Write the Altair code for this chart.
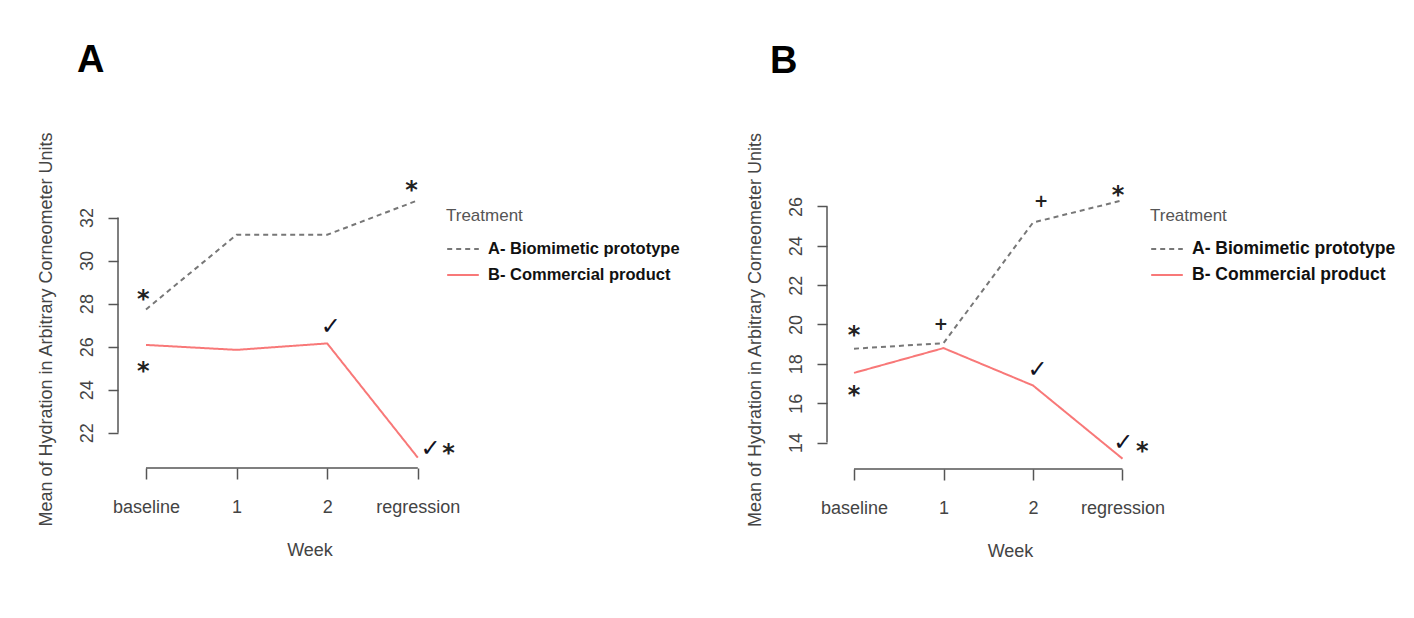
import json
import altair as alt
import pandas as pd

weeks = ["baseline", "1", "2", "regression"]
week_index = [1, 2, 3, 4]
treatments = ["A- Biomimetic prototype", "B- Commercial product"]

# Panel A values
a_biomimetic = [27.73, 31.2, 31.2, 32.8]
a_commercial = [26.08, 25.85, 26.15, 20.84]
a_yticks = [22, 24, 26, 28, 30, 32]
a_ann_text = ["*", "*", "✓", "*", "✓", "*"]
a_ann_x = [0.97, 0.97, 3.04, 3.93, 4.14, 4.34]
a_ann_y = [28.47, 25.16, 27.02, 33.58, 21.35, 21.35]

# Panel B values
b_biomimetic = [18.77, 19.05, 25.18, 26.31]
b_commercial = [17.54, 18.8, 16.9, 13.18]
b_yticks = [14, 16, 18, 20, 22, 24, 26]
b_ann_text = ["*", "*", "+", "+", "✓", "*", "✓", "*"]
b_ann_x = [1.0, 1.0, 1.97, 3.09, 3.05, 3.95, 4.01, 4.22]
b_ann_y = [19.75, 16.7, 20.0, 26.3, 17.81, 26.9, 14.07, 13.9]

FONT = "Liberation Sans"
AXIS_COLOR = "#555555"
TEXT_COLOR = "#444444"
LINE_COLORS = ["#777777", "#F87878"]
label_expr = json.dumps(weeks) + "[datum.value - 1]"


def panel(letter, bio, com, yticks, ann_text, ann_x, ann_y, xdom, ydom, w, h,
          legend_x, legend_font, title_dx):
    df = pd.DataFrame({
        "week": week_index + week_index,
        "value": bio + com,
        "treatment": [treatments[0]] * 4 + [treatments[1]] * 4,
    })
    xs = alt.Scale(domain=xdom, nice=False, zero=False)
    ys = alt.Scale(domain=ydom, nice=False, zero=False)

    xaxis = alt.Axis(values=week_index, labelExpr=label_expr, domain=False,
                     grid=False, tickSize=11, tickColor=AXIS_COLOR, tickWidth=1.5,
                     labelFont=FONT, labelFontSize=18, labelColor=TEXT_COLOR,
                     labelPadding=19, title="Week", titleFont=FONT,
                     titleFontSize=18, titleFontWeight="normal",
                     titleColor=TEXT_COLOR, titlePadding=25)
    yaxis = alt.Axis(values=yticks, domain=False, grid=False, tickSize=10,
                     tickColor=AXIS_COLOR, tickWidth=1.5, labelFont=FONT,
                     labelFontSize=18, labelColor=TEXT_COLOR, labelAngle=-90,
                     labelAlign="center", labelBaseline="bottom",
                     labelPadding=12,
                     title="Mean of Hydration in Arbitrary Corneometer Units",
                     titleFont=FONT, titleFontSize=18, titleFontWeight="normal",
                     titleColor=TEXT_COLOR, titlePadding=23)

    legend = alt.Legend(orient="none", legendX=legend_x, legendY=18,
                        title="Treatment", titleFont=FONT, titleFontSize=17,
                        titleFontWeight="normal", titleColor="#555555",
                        titlePadding=7, labelFont=FONT, labelFontSize=legend_font,
                        labelFontWeight="bold", labelColor="#111111",
                        labelLimit=0, symbolType="stroke", symbolSize=1000,
                        symbolStrokeWidth=2, labelOffset=8, rowPadding=-4)

    lines = alt.Chart(df).mark_line(strokeWidth=2).encode(
        x=alt.X("week:Q", scale=xs, axis=xaxis),
        y=alt.Y("value:Q", scale=ys, axis=yaxis),
        color=alt.Color("treatment:N",
                        scale=alt.Scale(domain=treatments, range=LINE_COLORS),
                        legend=legend),
        strokeDash=alt.StrokeDash("treatment:N",
                                  scale=alt.Scale(domain=treatments,
                                                  range=[[5, 4], [1, 0]]),
                                  legend=legend),
    )

    yrule = alt.Chart(pd.DataFrame({"value": [yticks[0]], "value2": [yticks[-1]]})).mark_rule(
        color=AXIS_COLOR, strokeWidth=1.5).encode(
        x=alt.value(0), y=alt.Y("value:Q", scale=ys), y2="value2:Q")
    xrule = alt.Chart(pd.DataFrame({"week": [week_index[0]], "week2": [week_index[-1]]})).mark_rule(
        color=AXIS_COLOR, strokeWidth=1.5).encode(
        y=alt.value(h), x=alt.X("week:Q", scale=xs), x2="week2:Q")

    ann = pd.DataFrame({"week": ann_x, "value": ann_y, "label": ann_text})
    base = alt.Chart(ann).encode(x=alt.X("week:Q", scale=xs),
                                 y=alt.Y("value:Q", scale=ys), text="label:N")
    star = base.transform_filter(alt.datum.label == "*").mark_text(
        font="DejaVu Sans", fontWeight="bold", fontSize=24, color="#222222",
        baseline="alphabetic", dy=14)
    check = base.transform_filter(alt.datum.label == "✓").mark_text(
        font="DejaVu Sans", fontWeight="bold", fontSize=24, color="#111122",
        baseline="alphabetic", dy=9)
    plus = base.transform_filter(alt.datum.label == "+").mark_text(
        font="DejaVu Sans", fontWeight="bold", fontSize=17, color="#222222",
        baseline="alphabetic", dy=6)

    return alt.layer(lines, yrule, xrule, star, check, plus).properties(
        width=w, height=h,
        title=alt.TitleParams(letter, anchor="start", frame="group",
                              font=FONT, fontSize=38, fontWeight="bold",
                              color="black", dx=title_dx, offset=51),
    )


pa = panel("A", a_biomimetic, a_commercial, a_yticks, a_ann_text, a_ann_x, a_ann_y,
           [0.691, 4.918], [20.36, 33.28], 383, 278, 328, 16.5, -41)
pb = panel("B", b_biomimetic, b_commercial, b_yticks, b_ann_text, b_ann_x, b_ann_y,
           [0.698, 4.788], [12.655, 26.835], 366, 279, 323, 17.5, -57)

chart = alt.hconcat(pa, pb, spacing=65).resolve_scale(
    color="independent", strokeDash="independent", x="independent", y="independent"
).resolve_legend(color="independent", strokeDash="independent").configure(
    padding={"left": 36, "top": 42, "right": 5, "bottom": 5}, background="white"
).configure_view(strokeWidth=0, stroke="transparent")

chart.save("out.html", embed_options={"renderer": "svg", "actions": False})
